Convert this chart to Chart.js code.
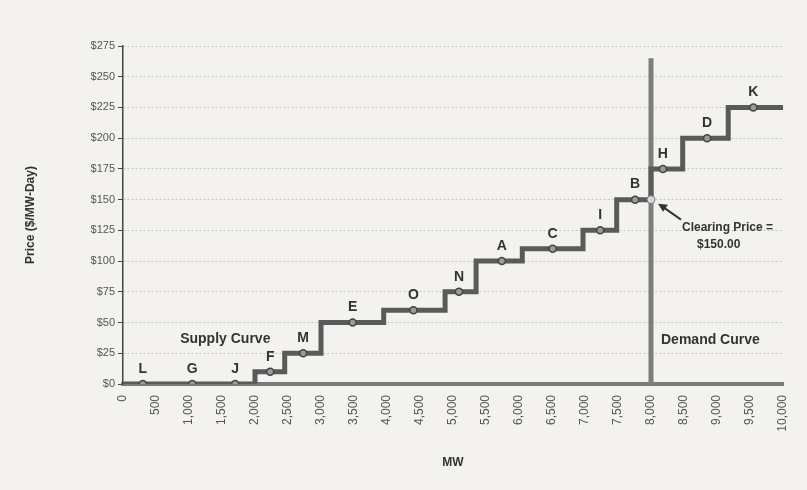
<!DOCTYPE html>
<html>
<head>
<meta charset="utf-8">
<script src="https://cdn.jsdelivr.net/npm/chart.js@4"></script>
<style>
  html, body { margin: 0; padding: 0; background: #f4f2ef; }
  #wrap { width: 807px; height: 490px; }
</style>
</head>
<body>
<div id="wrap"><canvas id="supplyChart" width="807" height="490"></canvas></div>
<script>
// supply curve: each step starts at stepMW with price stepPrice
var stepMW    = [0, 2000, 2450, 3000, 3950, 4880, 5350, 6050, 6970, 7480, 8000, 8480, 9170, 10000];
var stepPrice = [0, 10,   25,   50,   60,   75,   100,  110,  125,  150,  175,  200,  225,  225];

// labelled offers on the curve
var offerNames = ['L', 'G', 'J', 'F', 'M', 'E', 'O', 'N', 'A', 'C', 'I', 'B', 'H', 'D', 'K'];
var offerMW    = [300, 1050, 1700, 2230, 2730, 3480, 4400, 5090, 5740, 6510, 7230, 7760, 8180, 8850, 9550];
var offerPrice = [0, 0, 0, 10, 25, 50, 60, 75, 100, 110, 125, 150, 175, 200, 225];

var demandMW = 8000;
var demandTop = 265;
var clearingPrice = 150;

var xTicks = [];
for (var t = 0; t <= 10000; t += 500) xTicks.push(t);

var ctx = document.getElementById('supplyChart').getContext('2d');

var paperBg = {
    id: 'paperBg',
    beforeDraw: function (chart) {
        var c = chart.ctx;
        c.save();
        c.fillStyle = '#f4f2ef';
        c.fillRect(0, 0, chart.width, chart.height);
        c.restore();
    }
};

var notes = {
    id: 'notes',
    afterDatasetsDraw: function (chart) {
        var c = chart.ctx, xs = chart.scales.x, ys = chart.scales.y;
        c.save();
        c.fillStyle = '#333';
        c.textAlign = 'center';
        c.textBaseline = 'bottom';
        c.font = 'bold 14px "Liberation Sans", Arial, sans-serif';
        offerNames.forEach(function (n, i) {
            c.fillText(n, xs.getPixelForValue(offerMW[i]), ys.getPixelForValue(offerPrice[i]) - 8);
        });

        c.font = 'bold 14px "Liberation Sans", Arial, sans-serif';
        c.fillText('Supply Curve', xs.getPixelForValue(1550), ys.getPixelForValue(31));
        c.fillText('Demand Curve', xs.getPixelForValue(8900), ys.getPixelForValue(30));

        c.font = 'bold 12px "Liberation Sans", Arial, sans-serif';
        c.textAlign = 'left';
        var px = xs.getPixelForValue(demandMW), py = ys.getPixelForValue(clearingPrice);
        c.fillText('Clearing Price =', px + 31, py + 34);
        c.fillText('$150.00', px + 46, py + 51);

        // arrow to the clearing point
        c.strokeStyle = '#333';
        c.lineWidth = 2;
        c.beginPath();
        c.moveTo(px + 30, py + 20);
        c.lineTo(px + 10, py + 6);
        c.stroke();
        c.beginPath();
        c.fillStyle = '#333';
        c.moveTo(px + 7, py + 4);
        c.lineTo(px + 17, py + 5);
        c.lineTo(px + 12, py + 12);
        c.closePath();
        c.fill();
        c.restore();
    }
};

var supplyChart = new Chart(ctx, {
    type: 'line',
    data: {
        datasets: [{
            label: 'Supply Curve',
            data: stepMW.map(function (x, i) { return { x: x, y: stepPrice[i] }; }),
            stepped: 'before',
            borderColor: '#5a5a5a',
            borderWidth: 5,
            pointRadius: 0,
            fill: false,
            order: 2
        }, {
            label: 'Demand Curve',
            data: [{ x: demandMW, y: 0 }, { x: demandMW, y: demandTop }],
            borderColor: '#7d7d7d',
            borderWidth: 5,
            pointRadius: 0,
            fill: false,
            order: 3
        }, {
            label: 'Offers',
            data: offerMW.map(function (x, i) { return { x: x, y: offerPrice[i] }; }),
            showLine: false,
            pointRadius: 3.5,
            pointBackgroundColor: '#9a9a9a',
            pointBorderColor: '#444',
            pointBorderWidth: 1.5,
            order: 1
        }, {
            label: 'Clearing Price',
            data: [{ x: demandMW, y: clearingPrice }],
            showLine: false,
            pointRadius: 4,
            pointBackgroundColor: '#d8d8d8',
            pointBorderColor: '#777',
            pointBorderWidth: 1,
            order: 0
        }]
    },
    options: {
        responsive: false,
        animation: false,
        layout: { padding: { top: 46, right: 24, left: 0, bottom: 0 } },
        plugins: { legend: { display: false }, tooltip: { enabled: false } },
        scales: {
            x: {
                type: 'linear',
                min: 0,
                max: 10000,
                afterBuildTicks: function (s) { s.ticks = xTicks.map(function (v) { return { value: v }; }); },
                afterFit: function (s) { s.height = 106; },
                ticks: {
                    minRotation: 90,
                    maxRotation: 90,
                    color: '#555',
                    font: { size: 12, family: '"Liberation Sans", Arial, sans-serif' },
                    callback: function (v) { return v.toLocaleString('en-US'); }
                },
                grid: { display: false },
                border: { color: '#7a7a7a', width: 4 },
                title: {
                    display: true,
                    text: 'MW',
                    color: '#333',
                    font: { size: 12, weight: 'bold', family: '"Liberation Sans", Arial, sans-serif' },
                    padding: { top: 4, bottom: 20 }
                }
            },
            y: {
                min: 0,
                max: 275,
                afterFit: function (s) { s.width = 123; },
                ticks: {
                    stepSize: 25,
                    color: '#555',
                    font: { size: 11, family: '"Liberation Sans", Arial, sans-serif' },
                    callback: function (v) { return '$' + v; }
                },
                grid: {
                    color: '#c4c4c4',
                    tickColor: '#444',
                    tickLength: 5,
                    lineWidth: 1
                },
                border: { color: '#444', width: 1.5, dash: [2, 2] },
                title: {
                    display: true,
                    text: 'Price ($/MW-Day)',
                    color: '#333',
                    font: { size: 12, weight: 'bold', family: '"Liberation Sans", Arial, sans-serif' },
                    padding: { top: 23, bottom: 20 }
                }
            }
        }
    },
    plugins: [paperBg, notes]
});
</script>
</body>
</html>
